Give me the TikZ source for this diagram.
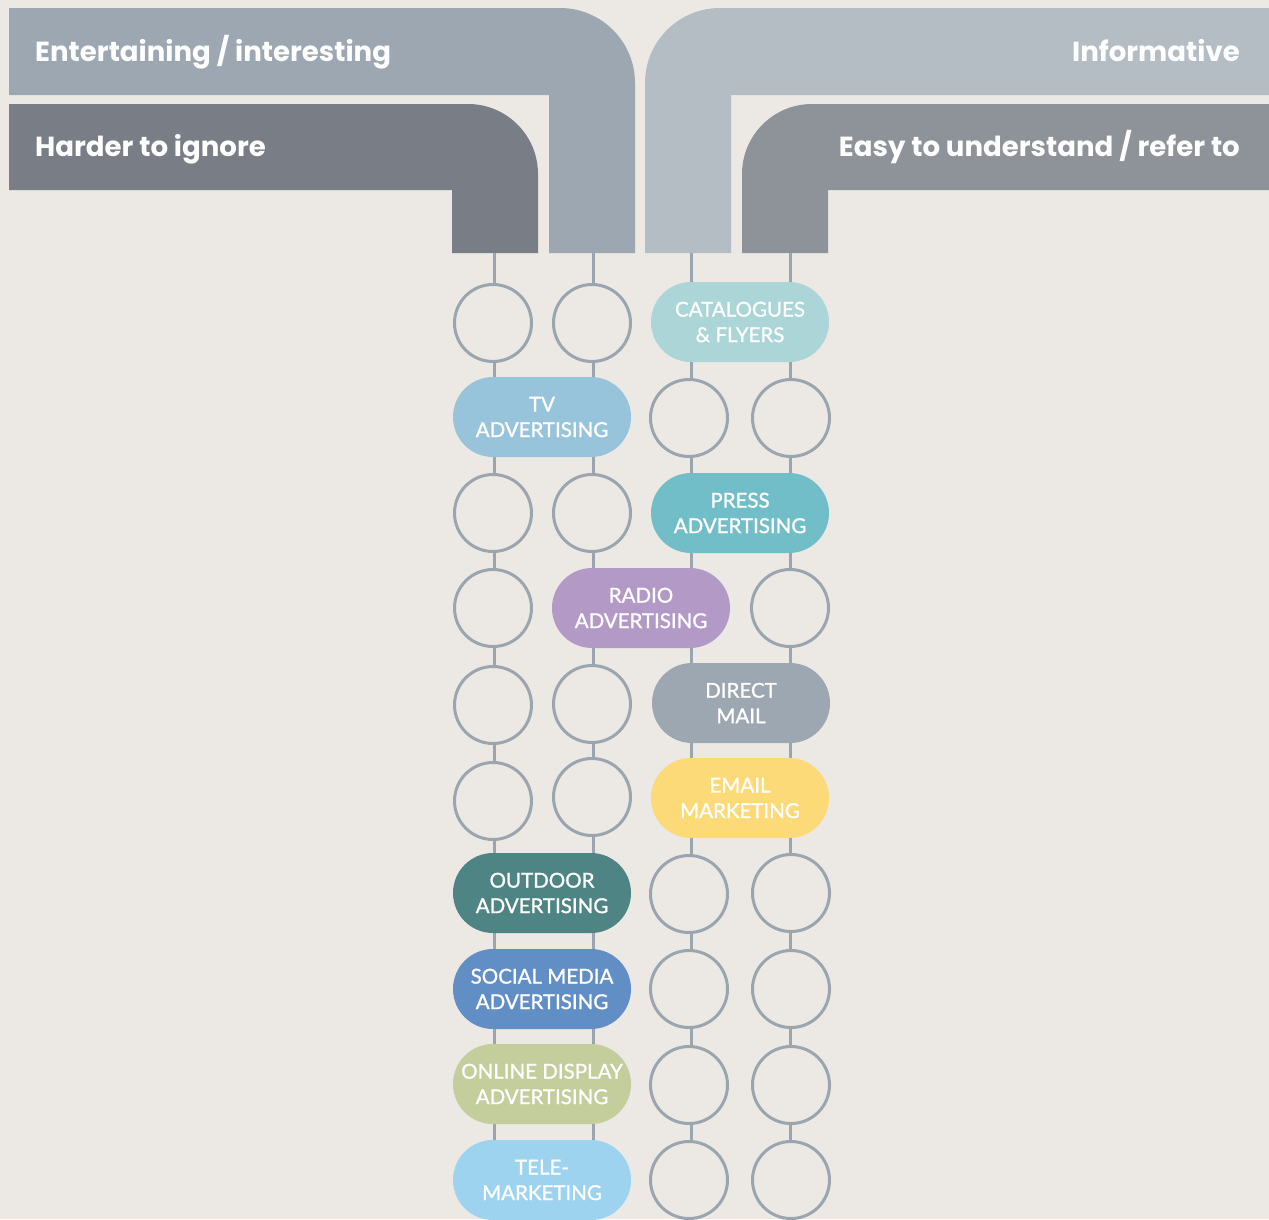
\documentclass[tikz,border=0pt]{standalone}
\usepackage{fontspec}
\setmainfont{Lato}
\newfontfamily\pillfont{Lato}[FakeBold=1.2]
\newfontfamily\bandfont{Poppins}
\definecolor{bg}{HTML}{ECE9E4}
\definecolor{bandA}{HTML}{9DA7B1}
\definecolor{bandB}{HTML}{797D85}
\definecolor{bandC}{HTML}{B5BDC4}
\definecolor{bandD}{HTML}{8E939A}
\definecolor{linec}{HTML}{9AA5AF}
\definecolor{cCat}{HTML}{ABD5D6}
\definecolor{cTV}{HTML}{97C4DA}
\definecolor{cPress}{HTML}{72BEC8}
\definecolor{cRadio}{HTML}{B39AC6}
\definecolor{cMail}{HTML}{9DA7B1}
\definecolor{cEmail}{HTML}{FDDA78}
\definecolor{cOut}{HTML}{4E8584}
\definecolor{cSocial}{HTML}{628EC6}
\definecolor{cOnline}{HTML}{C4CD9C}
\definecolor{cTele}{HTML}{9DD3EE}
\begin{document}
\begin{tikzpicture}[x=1pt,y=-1pt,
  circ/.style={circle,draw=linec,line width=3pt,fill=bg,minimum size=77pt,inner sep=0pt},
  pill/.style={rectangle,rounded corners=40pt,minimum width=178pt,minimum height=80pt,
    text=white,align=center,inner sep=0pt,font=\pillfont\fontsize{20.5}{25.5}\selectfont},
  bandtext/.style={text=white,inner sep=0pt,font=\bandfont\bfseries\fontsize{27.6}{32}\selectfont},
  col/.style={draw=linec,line width=3pt}]
\fill[bg] (0,0) rectangle (1269,1219);
\useasboundingbox (0,0) rectangle (1269,1219);
\clip (0,0) rectangle (1269,1219);
% bands
\fill[bandA] (9,95) -- (9,8) [rounded corners=75pt] -- (635,8) [sharp corners] -- (635,253) -- (549,253) -- (549,95) -- cycle;
\fill[bandB] (9,190) -- (9,104) [rounded corners=70pt] -- (538,104) [sharp corners] -- (538,253) -- (452,253) -- (452,190) -- cycle;
\fill[bandC] (1269,95) -- (1269,8) [rounded corners=75pt] -- (645,8) [sharp corners] -- (645,253) -- (731,253) -- (731,95) -- cycle;
\fill[bandD] (1269,190) -- (1269,104) [rounded corners=70pt] -- (742,104) [sharp corners] -- (742,253) -- (828,253) -- (828,190) -- cycle;
\node[bandtext,anchor=base west] (tA) at (35,61) {Entertaining / interesting};
\node[bandtext,anchor=base west] (tB) at (35,156) {Harder to ignore};
\node[bandtext,anchor=base east] (tC) at (1240,61) {Informative};
\node[bandtext,anchor=base east] (tD) at (1240,156) {Easy to understand / refer to};
% column lines
\coordinate (top1) at (494,253); \coordinate (bot1) at (494,1225);
\coordinate (top2) at (593,253); \coordinate (bot2) at (593,1225);
\coordinate (top3) at (691,253); \coordinate (bot3) at (691,1225);
\coordinate (top4) at (790,253); \coordinate (bot4) at (790,1225);
\draw[col] (top1) -- (bot1);
\draw[col] (top2) -- (bot2);
\draw[col] (top3) -- (bot3);
\draw[col] (top4) -- (bot4);
% row 1
\node[circ] (r1c1) at (493,323) {};
\node[circ] (r1c2) at (592,323) {};
\node[pill,fill=cCat] (cat) at (740,322) {CATALOGUES\\\& FLYERS};
% row 2
\node[pill,fill=cTV] (tv) at (542,417) {TV\\ADVERTISING};
\node[circ] (r2c3) at (689,418) {};
\node[circ] (r2c4) at (791,418) {};
% row 3
\node[circ] (r3c1) at (493,513) {};
\node[circ] (r3c2) at (592,513) {};
\node[pill,fill=cPress] (press) at (740,513) {PRESS\\ADVERTISING};
% row 4
\node[circ] (r4c1) at (493,608) {};
\node[pill,fill=cRadio] (radio) at (641,608) {RADIO\\ADVERTISING};
\node[circ] (r4c4) at (790,608) {};
% row 5
\node[circ] (r5c1) at (493,705) {};
\node[circ] (r5c2) at (592,704) {};
\node[pill,fill=cMail] (mail) at (741,703) {DIRECT\\MAIL};
% row 6
\node[circ] (r6c1) at (493,801) {};
\node[circ] (r6c2) at (592,797) {};
\node[pill,fill=cEmail] (email) at (740,798) {EMAIL\\MARKETING};
% row 7
\node[pill,fill=cOut] (outdoor) at (542,893) {OUTDOOR\\ADVERTISING};
\node[circ] (r7c3) at (689,894) {};
\node[circ] (r7c4) at (791,893) {};
% row 8
\node[pill,fill=cSocial] (social) at (542,989) {SOCIAL MEDIA\\ADVERTISING};
\node[circ] (r8c3) at (689,989) {};
\node[circ] (r8c4) at (791,989) {};
% row 9
\node[pill,fill=cOnline] (online) at (542,1084) {ONLINE DISPLAY\\ADVERTISING};
\node[circ] (r9c3) at (689,1085) {};
\node[circ] (r9c4) at (791,1085) {};
% row 10
\node[pill,fill=cTele] (tele) at (542,1180) {TELE-\\MARKETING};
\node[circ] (r10c3) at (689,1180) {};
\node[circ] (r10c4) at (791,1180) {};
\end{tikzpicture}
\end{document}
